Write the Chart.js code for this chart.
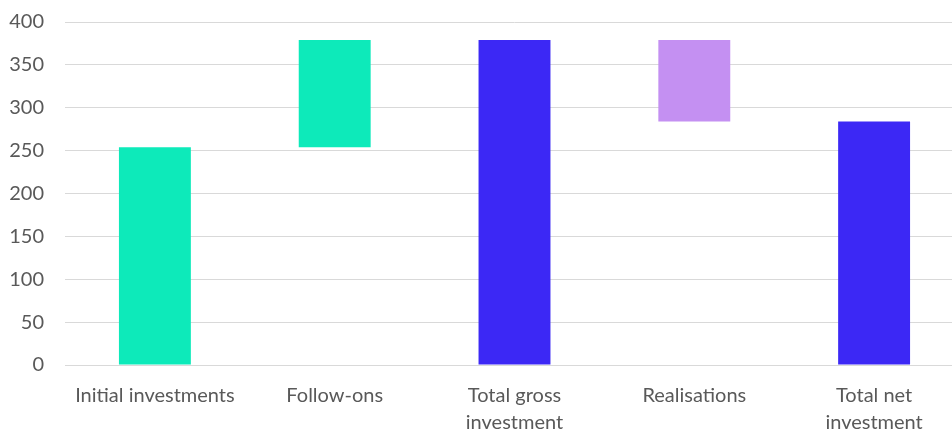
<!DOCTYPE html>
<html>
<head>
<meta charset="utf-8">
<script src="https://cdn.jsdelivr.net/npm/chart.js@4"></script>
<style>
  html, body { margin: 0; padding: 0; background: #fff; overflow: hidden; }
  #wrap { width: 964px; height: 441px; margin-top: -11px; }
</style>
</head>
<body>
<div id="wrap"><canvas id="ch"></canvas></div>
<script>
  var categorias = ["Initial investments", "Follow-ons", ["Total gross", "investment"], "Realisations", ["Total net", "investment"]];
  var inicio = [0, 254, 0, 284, 0];
  var fim = [254, 379, 379, 379, 284];
  var cores = ["#0DEABA", "#0DEABA", "#3C28F5", "#C490F2", "#3C28F5"];
  var ticksY = [0, 50, 100, 150, 200, 250, 300, 350, 400];

  var barras = inicio.map(function (v, i) { return [v, fim[i]]; });
  var fonte = "Lato, 'Open Sans', sans-serif";

  new Chart(document.getElementById("ch"), {
    type: "bar",
    data: {
      labels: categorias,
      datasets: [{ data: barras, backgroundColor: cores, borderWidth: 0, barPercentage: 0.4, categoryPercentage: 1 }]
    },
    options: {
      responsive: true,
      maintainAspectRatio: false,
      animation: false,
      layout: { padding: 0 },
      plugins: { legend: { display: false }, tooltip: { enabled: false } },
      scales: {
        x: {
          afterFit: function (s) { s.height = 65; },
          grid: { display: false },
          border: { color: "#d9d9d9", width: 1 },
          ticks: { color: "#595959", font: { family: fonte, size: 20, lineHeight: 1.35 }, maxRotation: 0, padding: 9 }
        },
        y: {
          min: 0, max: 400,
          afterBuildTicks: function (s) { s.ticks = ticksY.map(function (v) { return { value: v }; }); },
          afterFit: function (s) { s.width = 65; },
          grid: { color: "#d9d9d9", lineWidth: 1, drawTicks: false },
          border: { display: false },
          ticks: { color: "#595959", font: { family: fonte, size: 20 }, padding: 21 }
        }
      }
    }
  });
</script>
</body>
</html>
